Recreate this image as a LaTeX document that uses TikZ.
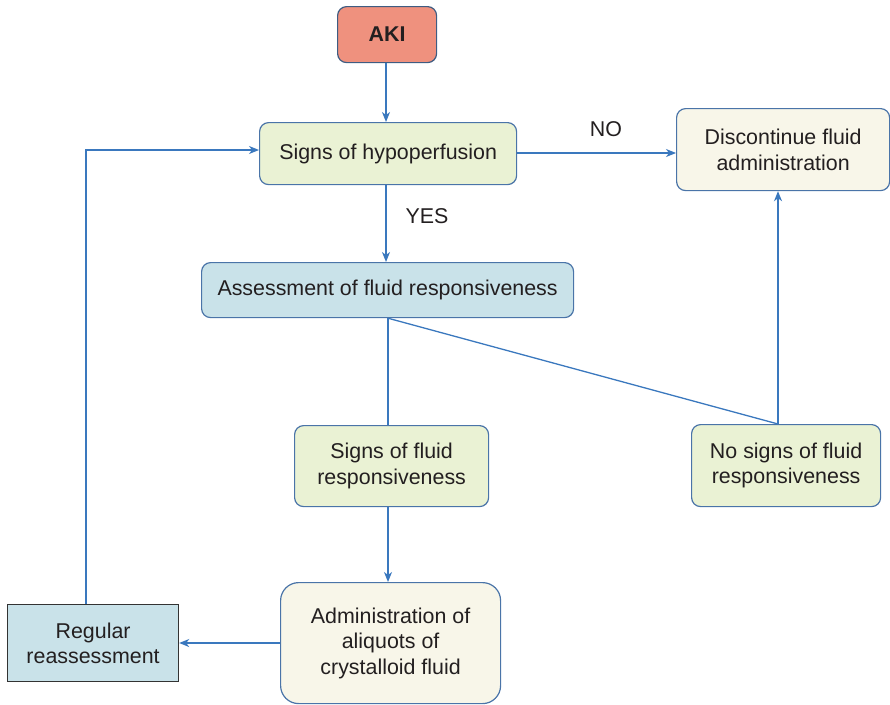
\documentclass[tikz,border=0pt]{standalone}
\usepackage{fontspec}
\setmainfont{Liberation Sans}
\usetikzlibrary{arrows.meta}
\definecolor{edgeblue}{HTML}{3A78BE}
\definecolor{boxline}{HTML}{4A74A8}
\definecolor{akiline}{HTML}{3E5C82}
\definecolor{akifill}{HTML}{EF917E}
\definecolor{greenfill}{HTML}{EAF2D4}
\definecolor{creamfill}{HTML}{F8F6E9}
\definecolor{bluefill}{HTML}{C9E2E9}
\definecolor{txt}{HTML}{231F20}
\tikzset{
  x=1pt, y=-1pt,
  base/.style={draw=boxline, line width=1.2pt, rounded corners=9pt, align=center,
    text=txt, font=\fontsize{21.4}{25.5}\selectfont, inner sep=0pt, anchor=north west},
  greenbox/.style={base, fill=greenfill},
  creambox/.style={base, fill=creamfill},
  bluebox/.style={base, fill=bluefill},
  akibox/.style={base, fill=akifill, draw=akiline, font=\fontsize{21.4}{25.5}\selectfont\bfseries},
  squarebox/.style={base, fill=bluefill, rounded corners=0pt, draw=black!80},
  link/.style={draw=edgeblue, line width=1.3pt},
  arrow/.style={link, -{Stealth[length=10pt,width=8pt,inset=3pt]}},
  lbl/.style={text=txt, font=\fontsize{21.4}{25.5}\selectfont},
}
\begin{document}
\begin{tikzpicture}
\useasboundingbox (0,0) rectangle (890,704);

\node[akibox, minimum width=99pt, minimum height=56pt] (aki) at (337,6) {AKI};
\node[greenbox, minimum width=257pt, minimum height=62pt] (hypo) at (259,122) {Signs of hypoperfusion};
\node[creambox, minimum width=213pt, minimum height=82pt] (stop) at (676,108) {Discontinue fluid\\administration};
\node[bluebox, minimum width=372pt, minimum height=55pt] (assess) at (201,262) {Assessment of fluid responsiveness};
\node[greenbox, minimum width=194pt, minimum height=81pt] (resp) at (294,425) {Signs of fluid\\responsiveness};
\node[greenbox, minimum width=189pt, minimum height=82pt] (noresp) at (691,424) {No signs of fluid\\responsiveness};
\node[creambox, minimum width=220pt, minimum height=121pt, rounded corners=18pt] (admin) at (280,582) {Administration of\\aliquots of\\crystalloid fluid};
\node[squarebox, minimum width=171pt, minimum height=77pt] (regular) at (7,604) {Regular\\reassessment};

\node[lbl] (no) at (606,129) {NO};
\node[lbl] (yes) at (427,216) {YES};

\coordinate (split) at (assess.south -| 388,0);
\coordinate (corner) at (86,150);

\draw[arrow] (aki.south -| 386,0) -- (hypo.north -| 386,0);
\draw[arrow] (hypo.east |- 0,153) -- (stop.west |- 0,153);
\draw[arrow] (hypo.south -| 386,0) -- (assess.north -| 386,0);
\draw[link] (split) -- (resp.north -| split);
\draw[link] (split) -- (noresp.north -| 778,0);
\draw[arrow] (noresp.north -| 778,0) -- (stop.south -| 778,0);
\draw[arrow] (resp.south -| 388,0) -- (admin.north -| 388,0);
\draw[arrow] (admin.west |- 0,643) -- (regular.east |- 0,643);
\draw[arrow] (regular.north -| corner) -- (corner) -- (hypo.west |- corner);
\end{tikzpicture}
\end{document}
